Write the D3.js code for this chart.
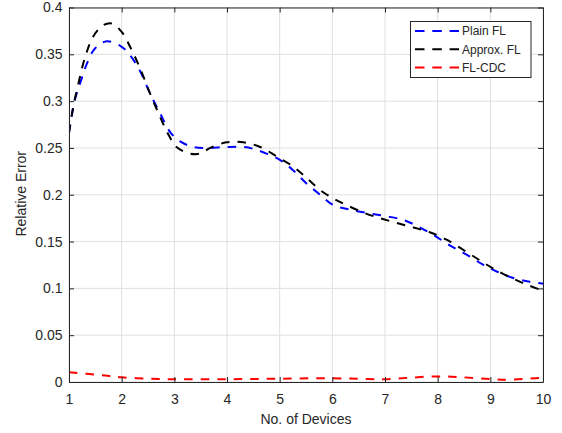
<!DOCTYPE html>
<html>
<head>
<meta charset="utf-8">
<script src="https://cdn.jsdelivr.net/npm/d3@7"></script>
<style>
  body { margin: 0; background: #fff; }
  text { font-family: "Liberation Sans", Arial, sans-serif; fill: #262626; }
</style>
</head>
<body>
<svg id="chart" width="562" height="433"></svg>
<script>
// data
var plainX = [1, 1.11, 1.24, 1.34, 1.49, 1.72, 2.0, 2.16, 2.35, 2.54, 2.73, 2.92, 3.11, 3.36, 3.61, 3.99, 4.31, 4.5, 4.75, 5.01, 5.26, 5.51, 5.77, 6.02, 6.34, 6.71, 7.03, 7.35, 7.6, 7.92, 8.23, 8.55, 8.87, 9.12, 9.44, 9.75, 10];
var plainY = [0.266, 0.301, 0.324, 0.340, 0.356, 0.364, 0.358, 0.349, 0.332, 0.308, 0.287, 0.267, 0.257, 0.251, 0.250, 0.251, 0.251, 0.249, 0.244, 0.237, 0.226, 0.212, 0.200, 0.189, 0.184, 0.180, 0.177, 0.173, 0.167, 0.157, 0.146, 0.136, 0.125, 0.118, 0.111, 0.107, 0.105];

var approxX = [1, 1.08, 1.18, 1.30, 1.46, 1.65, 1.81, 2.0, 2.16, 2.35, 2.54, 2.73, 2.89, 3.04, 3.30, 3.49, 3.68, 3.99, 4.31, 4.63, 4.94, 5.26, 5.51, 5.77, 6.02, 6.27, 6.59, 6.90, 7.22, 7.54, 7.85, 8.17, 8.49, 8.80, 9.06, 9.37, 9.69, 10];
var approxY = [0.266, 0.294, 0.319, 0.346, 0.369, 0.381, 0.383, 0.374, 0.358, 0.335, 0.308, 0.283, 0.264, 0.251, 0.244, 0.244, 0.250, 0.256, 0.256, 0.251, 0.241, 0.230, 0.218, 0.205, 0.196, 0.189, 0.181, 0.175, 0.170, 0.165, 0.160, 0.152, 0.141, 0.130, 0.121, 0.112, 0.104, 0.0975];

var cdcX = [1, 1.59, 2, 2.54, 3, 4, 5, 6, 6.65, 7, 7.47, 8, 8.49, 9, 9.37, 10];
var cdcY = [0.0104, 0.0075, 0.005, 0.0035, 0.0029, 0.003, 0.0035, 0.004, 0.0032, 0.0029, 0.0046, 0.006, 0.005, 0.0032, 0.0025, 0.0046];

var seriesNames = ["Plain FL", "Approx. FL", "FL-CDC"];
var seriesColors = ["#0000ff", "#000000", "#ff0000"];
var xTicks = [1, 2, 3, 4, 5, 6, 7, 8, 9, 10];
var yTicks = [0, 0.05, 0.1, 0.15, 0.2, 0.25, 0.3, 0.35, 0.4];

var svg = d3.select("#chart");
var mLeft = 69, mRight = 543, mTop = 7.5, mBottom = 382;
var w = mRight - mLeft, h = mBottom - mTop;

var x = d3.scaleLinear().domain([1, 10]).range([mLeft, mRight]);
var y = d3.scaleLinear().domain([0, 0.4]).range([mBottom, mTop]);

// grid
svg.append("g").selectAll("line").data(xTicks).enter().append("line")
  .attr("x1", d => x(d)).attr("x2", d => x(d))
  .attr("y1", mTop).attr("y2", mBottom)
  .attr("stroke", "#dfdfdf").attr("stroke-width", 1);
svg.append("g").selectAll("line").data(yTicks).enter().append("line")
  .attr("x1", mLeft).attr("x2", mRight)
  .attr("y1", d => y(d)).attr("y2", d => y(d))
  .attr("stroke", "#dfdfdf").attr("stroke-width", 1);

// lines
var datasets = [
  plainX.map((v, i) => [v, plainY[i]]),
  approxX.map((v, i) => [v, approxY[i]]),
  cdcX.map((v, i) => [v, cdcY[i]])
];
var line = d3.line().x(d => x(d[0])).y(d => y(d[1])).curve(d3.curveCatmullRom.alpha(0.5));

svg.append("clipPath").attr("id", "clip").append("rect")
  .attr("x", mLeft).attr("y", mTop - 2).attr("width", w).attr("height", h + 4);

var plot = svg.append("g").attr("clip-path", "url(#clip)");
datasets.forEach(function(ds, i) {
  plot.append("path").datum(ds)
    .attr("d", line)
    .attr("fill", "none")
    .attr("stroke", seriesColors[i])
    .attr("stroke-width", 2)
    .attr("stroke-dasharray", "8.5,8");
});

// axes (MATLAB style, ticks inward, box)
var xAxis = d3.axisBottom(x).tickValues(xTicks).tickSizeInner(-5).tickSizeOuter(0).tickPadding(12).tickFormat(d3.format("d"));
var yAxis = d3.axisLeft(y).tickValues(yTicks).tickSizeInner(-5).tickSizeOuter(0).tickPadding(6.5).tickFormat(d => d === 0 ? "0" : d3.format("")(d));

var gx = svg.append("g").attr("transform", "translate(0," + mBottom + ")").call(xAxis);
var gy = svg.append("g").attr("transform", "translate(" + mLeft + ",0)").call(yAxis);
var gxt = svg.append("g").attr("transform", "translate(0," + mTop + ")").call(d3.axisTop(x).tickValues(xTicks).tickSizeInner(-5).tickSizeOuter(0).tickFormat(""));
var gyr = svg.append("g").attr("transform", "translate(" + mRight + ",0)").call(d3.axisRight(y).tickValues(yTicks).tickSizeInner(-5).tickSizeOuter(0).tickFormat(""));

[gx, gy, gxt, gyr].forEach(function(g) {
  g.selectAll("path.domain").attr("stroke", "#262626").attr("stroke-width", 1);
  g.selectAll(".tick line").attr("stroke", "#262626");
  g.selectAll("text").style("font-family", "'Liberation Sans', Arial, sans-serif")
    .style("font-size", "14px").attr("fill", "#262626");
});

// axis labels
svg.append("text").attr("x", (mLeft + mRight) / 2).attr("y", 424)
  .attr("text-anchor", "middle").style("font-size", "14px").text("No. of Devices");
svg.append("text").attr("transform", "translate(26," + ((mTop + mBottom) / 2 - 1) + ") rotate(-90)")
  .attr("text-anchor", "middle").style("font-size", "14px").text("Relative Error");

// legend
var lg = svg.append("g");
lg.append("rect").attr("x", 410.5).attr("y", 21.5).attr("width", 120.5).attr("height", 56)
  .attr("fill", "#fff").attr("stroke", "#262626").attr("stroke-width", 1);
seriesNames.forEach(function(name, i) {
  var yy = 31 + i * 18.2;
  lg.append("line").attr("x1", 415).attr("x2", 459).attr("y1", yy).attr("y2", yy)
    .attr("stroke", seriesColors[i]).attr("stroke-width", 2).attr("stroke-dasharray", "9.5,7.8");
  lg.append("text").attr("x", 462).attr("y", yy + 4.3).style("font-size", "12px").text(name);
});
</script>
</body>
</html>
